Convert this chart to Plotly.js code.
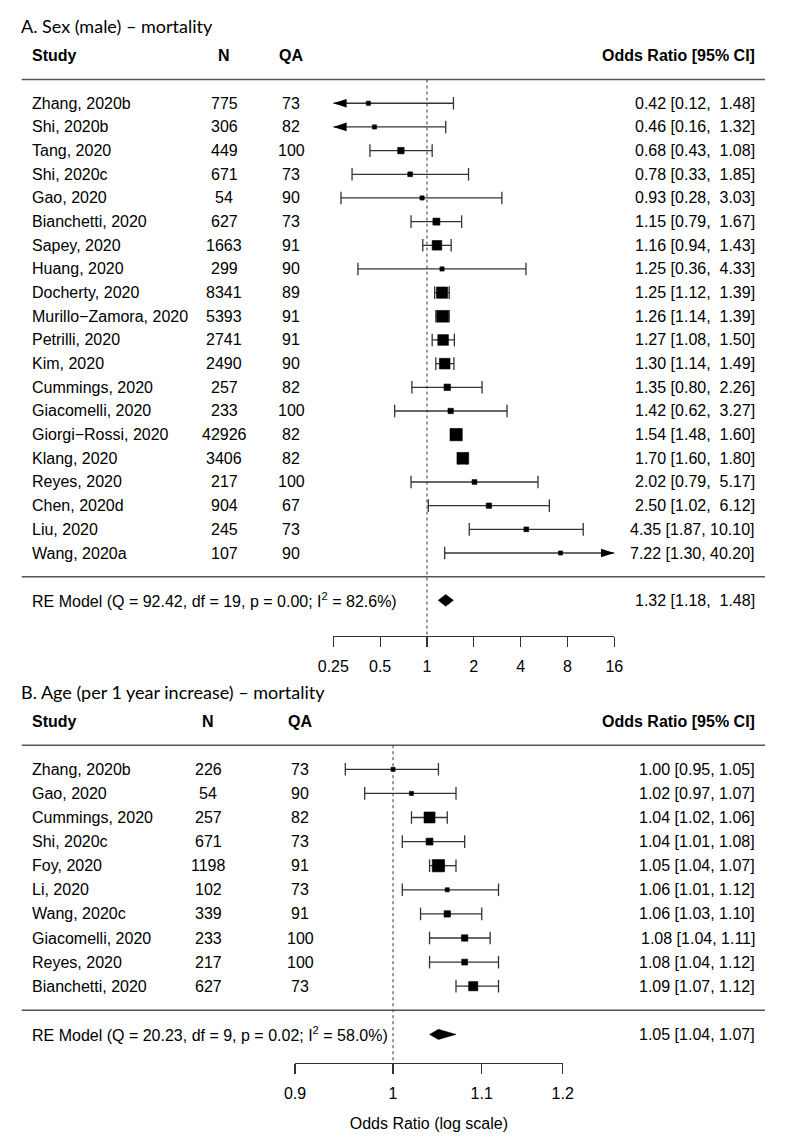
<!DOCTYPE html>
<html><head><meta charset="utf-8">
<script src="https://cdn.plot.ly/plotly-3.0.1.min.js"></script>
<style>html,body{margin:0;padding:0;background:#fff}</style>
</head><body><div id="chart" style="width:787px;height:1141px"></div>
<script>
// ---------- Panel A data: Sex (male) – mortality ----------
const studiesA = ["Zhang, 2020b","Shi, 2020b","Tang, 2020","Shi, 2020c","Gao, 2020","Bianchetti, 2020","Sapey, 2020","Huang, 2020","Docherty, 2020","Murillo\u2212Zamora, 2020","Petrilli, 2020","Kim, 2020","Cummings, 2020","Giacomelli, 2020","Giorgi\u2212Rossi, 2020","Klang, 2020","Reyes, 2020","Chen, 2020d","Liu, 2020","Wang, 2020a"];
const nA  = [775,306,449,671,54,627,1663,299,8341,5393,2741,2490,257,233,42926,3406,217,904,245,107];
const qaA = [73,82,100,73,90,73,91,90,89,91,91,90,82,100,82,82,100,67,73,90];
const orA = [0.42,0.46,0.68,0.78,0.93,1.15,1.16,1.25,1.25,1.26,1.27,1.30,1.35,1.42,1.54,1.70,2.02,2.50,4.35,7.22];
const loA = [0.12,0.16,0.43,0.33,0.28,0.79,0.94,0.36,1.12,1.14,1.08,1.14,0.80,0.62,1.48,1.60,0.79,1.02,1.87,1.30];
const hiA = [1.48,1.32,1.08,1.85,3.03,1.67,1.43,4.33,1.39,1.39,1.50,1.49,2.26,3.27,1.60,1.80,5.17,6.12,10.10,40.20];
const weightA = [1.6,1.6,3.5,2.1,1.6,4.0,6.2,1.6,7.6,8.0,7.1,7.1,3.5,2.6,8.5,8.0,2.1,2.6,2.1,1.5];
const summaryA = {est:1.32, lo:1.18, hi:1.48, Q:"92.42", df:19, p:"0.00", I2:"82.6"};
const ticksA = [0.25,0.5,1,2,4,8,16];
const tickLabelsA = ["0.25","0.5","1","2","4","8","16"];

// ---------- Panel B data: Age (per 1 year increase) – mortality ----------
const studiesB = ["Zhang, 2020b","Gao, 2020","Cummings, 2020","Shi, 2020c","Foy, 2020","Li, 2020","Wang, 2020c","Giacomelli, 2020","Reyes, 2020","Bianchetti, 2020"];
const nB  = [226,54,257,671,1198,102,339,233,217,627];
const qaB = [73,90,82,73,91,73,91,100,100,73];
const orB = [1.00,1.02,1.04,1.04,1.05,1.06,1.06,1.08,1.08,1.09];
const loB = [0.95,0.97,1.02,1.01,1.04,1.01,1.03,1.04,1.04,1.07];
const hiB = [1.05,1.07,1.06,1.08,1.07,1.12,1.10,1.11,1.12,1.12];
const weightB = [1.6,1.6,7.0,3.8,8.0,1.6,3.4,3.4,3.0,5.6];
const summaryB = {est:1.05, lo:1.04, hi:1.07, Q:"20.23", df:9, p:"0.02", I2:"58.0"};
const ticksB = [0.9,1,1.1,1.2];
const tickLabelsB = ["0.9","1","1.1","1.2"];

// ---------- geometry (layout only) ----------
const W = 787, H = 1141;
const FONT = "'Liberation Sans', Arial, sans-serif";
const TITLEFONT = "Lato, 'Open Sans', sans-serif";
const INK = "#000";
const LINE = "#333";

const panels = [
  {key:"A", xa:"x", ya:"y", title:"A. Sex (male) \u2013 mortality", studies:studiesA, n:nA, qa:qaA, est:orA, lo:loA, hi:hiA, w:weightA, sum:summaryA,
   ticks:ticksA, tickText:tickLabelsA, row0:79.6, rowH:23.67, xL:333.3, xR:614.3, axisPx:636, titlePx:26, nX:224, qaX:291, diamH:0.25, axisTitle:null},
  {key:"B", xa:"x2", ya:"y2", title:"B. Age (per 1 year increase) \u2013 mortality", studies:studiesB, n:nB, qa:qaB, est:orB, lo:loB, hi:hiB, w:weightB, sum:summaryB,
   ticks:ticksB, tickText:tickLabelsB, row0:745.2, rowH:24.1, xL:295, xR:562.7, axisPx:1062.7, titlePx:691.5, nX:208, qaX:300, diamH:0.21, axisTitle:"Odds Ratio (log scale)"}
];

const fmt = v => v.toFixed(2);
function ciText(e, l, h, width) {
  let hs = fmt(h);
  while (hs.length < width) hs = "\u00A0" + hs;
  return fmt(e) + " [" + fmt(l) + ",\u00A0" + hs + "]";
}

const traces = [], annotations = [], shapes = [];
const layout = {
  width: W, height: H, margin: {l:0, r:0, t:0, b:0, pad:0},
  paper_bgcolor: "#fff", plot_bgcolor: "rgba(0,0,0,0)", showlegend: false,
  font: {family: FONT, size: 16, color: INK},
  annotations, shapes
};

panels.forEach((P, pi) => {
  const k = P.studies.length;
  const rowOf = px => (px - P.row0) / P.rowH;
  const yIdx = P.studies.map((_, i) => i + 1);
  const xmin = P.ticks[0], xmax = P.ticks[P.ticks.length - 1];
  const axName = pi === 0 ? "xaxis" : "xaxis2";
  const ayName = pi === 0 ? "yaxis" : "yaxis2";

  const xa = {
    type: "log", domain: [P.xL / W, P.xR / W],
    range: [Math.log10(xmin), Math.log10(xmax)],
    anchor: "free", position: 1 - P.axisPx / H,
    tickmode: "array", tickvals: P.ticks, ticktext: P.tickText,
    ticks: "outside", ticklen: 10, tickwidth: 1.2, tickcolor: LINE,
    showline: true, linecolor: LINE, linewidth: 1.2,
    showgrid: false, zeroline: false, ticklabelstandoff: 6,
    tickfont: {family: FONT, size: 16, color: INK}, fixedrange: true
  };
  if (P.axisTitle) xa.title = {text: P.axisTitle, font: {family: FONT, size: 16, color: INK}, standoff: 16};
  layout[axName] = xa;
  layout[ayName] = {
    domain: [0, 1], range: [(H - P.row0) / P.rowH, -P.row0 / P.rowH],
    visible: false, showgrid: false, zeroline: false, fixedrange: true
  };

  // CI lines (clipped to axis limits)
  const lx = [], ly = [];
  const capX = [], capY = [], arrLX = [], arrLY = [], arrRX = [], arrRY = [];
  P.studies.forEach((s, i) => {
    const l = Math.max(P.lo[i], xmin), h = Math.min(P.hi[i], xmax);
    lx.push(l, h, null); ly.push(yIdx[i], yIdx[i], null);
    if (P.lo[i] < xmin) { arrLX.push(xmin); arrLY.push(yIdx[i]); } else { capX.push(P.lo[i]); capY.push(yIdx[i]); }
    if (P.hi[i] > xmax) { arrRX.push(xmax); arrRY.push(yIdx[i]); } else { capX.push(P.hi[i]); capY.push(yIdx[i]); }
  });
  traces.push({type:"scatter", mode:"lines", x:lx, y:ly, xaxis:P.xa, yaxis:P.ya,
    line:{color:LINE, width:1.3}, hoverinfo:"skip", cliponaxis:false});
  traces.push({type:"scatter", mode:"markers", x:capX, y:capY, xaxis:P.xa, yaxis:P.ya, cliponaxis:false,
    marker:{symbol:"line-ns", size:9, line:{color:LINE, width:1.3}}, hoverinfo:"skip"});
  if (arrLX.length) traces.push({type:"scatter", mode:"markers", x:arrLX, y:arrLY, xaxis:P.xa, yaxis:P.ya, cliponaxis:false,
    marker:{symbol:"arrow", angle:-90, size:14, color:INK, opacity:1, line:{width:0}}, hoverinfo:"skip"});
  if (arrRX.length) traces.push({type:"scatter", mode:"markers", x:arrRX, y:arrRY, xaxis:P.xa, yaxis:P.ya, cliponaxis:false,
    marker:{symbol:"arrow", angle:90, size:14, color:INK, opacity:1, line:{width:0}}, hoverinfo:"skip"});

  // study squares sized by weight
  const wmin = Math.min(...P.w), wmax = Math.max(...P.w);
  const sizes = P.w.map(w => 8.2 * (0.5 + (w - wmin) / (wmax - wmin)));
  traces.push({type:"scatter", mode:"markers", x:P.est, y:yIdx, xaxis:P.xa, yaxis:P.ya, cliponaxis:false,
    marker:{symbol:"square", size:sizes, color:INK, opacity:1, line:{width:0.6, color:INK}}, hoverinfo:"x+y"});

  // summary diamond
  const ySum = k + 2;
  traces.push({type:"scatter", mode:"lines", fill:"toself", fillcolor:INK,
    x:[P.sum.lo, P.sum.est, P.sum.hi, P.sum.est, P.sum.lo],
    y:[ySum, ySum - P.diamH, ySum, ySum + P.diamH, ySum],
    xaxis:P.xa, yaxis:P.ya, line:{color:INK, width:0.5}, hoverinfo:"skip", cliponaxis:false});

  // reference line at OR = 1
  shapes.push({type:"line", xref:P.xa, yref:P.ya, x0:1, x1:1, y0:0, y1:rowOf(P.axisPx),
    line:{color:LINE, width:1, dash:"dot"}, layer:"below"});
  // separator lines
  [0, k + 1].forEach(r => shapes.push({type:"line", xref:"paper", yref:P.ya, x0:21.7 / W, x1:765 / W, y0:r, y1:r,
    line:{color:"#555", width:1.5}}));

  // text
  const ann = (text, xpx, y, anchor, extra) => annotations.push(Object.assign({
    text, x:xpx / W, xref:"paper", y, yref:P.ya, xanchor:anchor, yanchor:"middle",
    showarrow:false, borderpad:0, borderwidth:0, font:{family:FONT, size:16, color:INK}}, extra || {}));

  ann(P.title, 20.5, rowOf(P.titlePx), "left", {font:{family:TITLEFONT, size:18, color:INK}});
  ann("<b>Study</b>", 31.7, -1, "left");
  ann("<b>N</b>", P.nX, -1, "center");
  ann("<b>QA</b>", P.qaX, -1, "center");
  ann("<b>Odds Ratio [95% CI]</b>", 755, -1, "right");
  const hw = Math.max(...P.hi.map(h => fmt(h).length));
  P.studies.forEach((s, i) => {
    ann(s, 31.7, yIdx[i], "left");
    ann(String(P.n[i]), P.nX, yIdx[i], "center");
    ann(String(P.qa[i]), P.qaX, yIdx[i], "center");
    ann(ciText(P.est[i], P.lo[i], P.hi[i], hw), 755, yIdx[i], "right");
  });
  ann("RE Model (Q = " + P.sum.Q + ", df = " + P.sum.df + ", p = " + P.sum.p + "; I<sup>2</sup> = " + P.sum.I2 + "%)", 31.7, ySum, "left");
  ann(ciText(P.sum.est, P.sum.lo, P.sum.hi, hw), 755, ySum, "right");
});

Plotly.newPlot("chart", traces, layout, {staticPlot: true, displayModeBar: false});
</script>
</body></html>
